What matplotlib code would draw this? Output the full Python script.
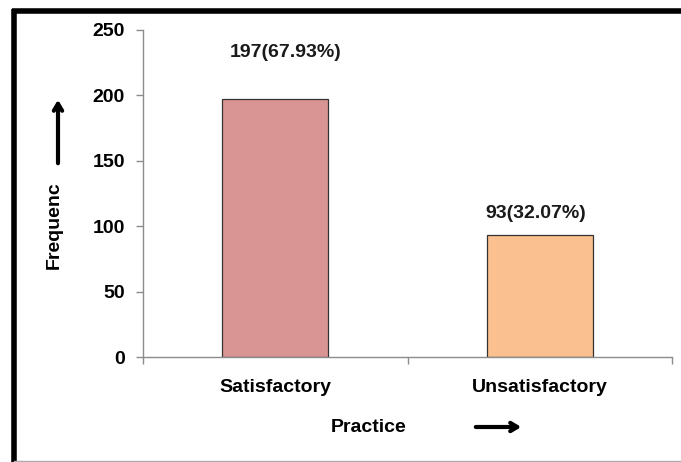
import numpy as np
import matplotlib
matplotlib.use("Agg")
import matplotlib.pyplot as plt
from matplotlib.lines import Line2D

# data
categories = ["Satisfactory", "Unsatisfactory"]
counts = [197, 93]
labels = ["197(67.93%)", "93(32.07%)"]
colors = ["#D99594", "#FAC090"]
yticks = [0, 50, 100, 150, 200, 250]

plt.rcParams['font.family'] = ['Liberation Sans', 'DejaVu Sans']
plt.rcParams['font.weight'] = 'bold'

fig = plt.figure(figsize=(6.81, 4.62), dpi=100)
ax = fig.add_axes([143/681, 1 - 357/462, (672 - 143)/681, (357 - 30)/462])

x = np.arange(len(categories))
ax.bar(x, counts, width=0.4, color=colors, edgecolor="#333333", linewidth=0.9)

# value labels, offset above the bar tops
label_offset = [36, 17]
label_shift = [0.04, -0.015]
for xi, c, lab, off, sh in zip(x, counts, labels, label_offset, label_shift):
    ax.text(xi + sh, c + off, lab, ha="center", va="center",
            fontsize=14, fontweight="bold", color="#1a1a1a")

ax.set_xlim(-0.5, 1.5)
ax.set_ylim(0, 250)
ax.set_yticks(yticks)
ax.set_yticklabels([str(t) for t in yticks], fontsize=14, fontweight="bold")
ax.set_xticks([-0.5, 0.5, 1.5])
ax.set_xticklabels([])
ax.set_xticks(x, minor=True)
ax.set_xticklabels(categories, minor=True, fontsize=14, fontweight="bold")
ax.tick_params(axis="x", which="minor", length=0, pad=16)
ax.tick_params(axis="x", which="major", length=5, color="#8c8c8c", width=1)
ax.tick_params(axis="y", length=5, color="#8c8c8c", width=1, pad=8)

for s in ["top", "right"]:
    ax.spines[s].set_visible(False)
for s in ["left", "bottom"]:
    ax.spines[s].set_color("#8c8c8c")
    ax.spines[s].set_linewidth(1)

# axis titles with arrows
fig.text(54/681, 1 - 225/462, "Frequenc", rotation=90, ha="center", va="center",
         fontsize=14, fontweight="bold")
fig.text(369/681, 1 - 427/462, "Practice", ha="center", va="center",
         fontsize=14, fontweight="bold")
fig.add_artist(matplotlib.patches.FancyArrowPatch(
    (58/681, 1 - 166/462), (58/681, 1 - 97/462), transform=fig.transFigure,
    arrowstyle="->,head_length=5,head_width=3", lw=3, color="black"))
fig.add_artist(matplotlib.patches.FancyArrowPatch(
    (473/681, 1 - 427/462), (524/681, 1 - 427/462), transform=fig.transFigure,
    arrowstyle="->,head_length=5,head_width=3", lw=3, color="black"))

# frame border
fig.add_artist(Line2D([12/681, 1], [1 - 11/462, 1 - 11/462], color="black", lw=4,
                      transform=fig.transFigure, solid_capstyle="butt"))
fig.add_artist(Line2D([14/681, 14/681], [0, 1 - 9/462], color="black", lw=4,
                      transform=fig.transFigure, solid_capstyle="butt"))
fig.add_artist(Line2D([14/681, 1], [1/462, 1/462], color="#aaaaaa", lw=1,
                      transform=fig.transFigure))

fig.savefig("out.png", dpi=100)
